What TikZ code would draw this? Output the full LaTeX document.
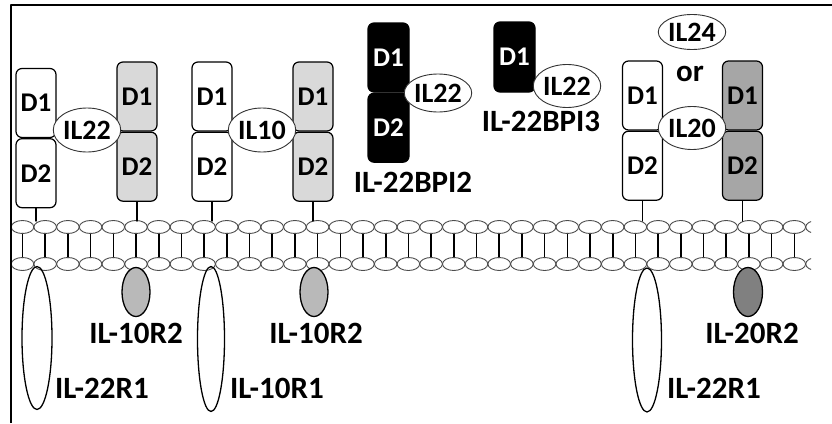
\documentclass[tikz,border=0pt]{standalone}
\usepackage{fontspec}
\setmainfont{Carlito}
\usetikzlibrary{shapes.geometric}

\begin{document}
\begin{tikzpicture}[x=1pt, y=-1pt, line cap=round, line join=round]

% ---------------- styles ----------------
\tikzset{
  dom/.style    ={draw, line width=1.2pt, rounded corners=6pt, minimum width=40pt,
                  minimum height=69pt, inner sep=0pt, font=\fontsize{27}{27}\selectfont\bfseries},
  domW/.style   ={dom, fill=white},
  domL/.style   ={dom, fill=gray!30},
  domD/.style   ={dom, fill=gray!70},
  domB/.style   ={dom, fill=black, text=white},
  lig/.style    ={draw=black!80, line width=0.9pt, ellipse, inner sep=0pt, fill=white,
                  font=\fontsize{28}{28}\selectfont\bfseries},
  chain/.style  ={draw, line width=1.3pt, ellipse, inner sep=0pt},
  stem/.style   ={line width=1.4pt},
  lbl/.style    ={inner sep=0pt, font=\fontsize{31}{31}\selectfont\bfseries},
  head/.style   ={draw=black!70, line width=0.9pt},
  tail/.style   ={line width=1.6pt}
}

% ---------------- parameters ----------------
\def\Xa{22.5}    % first lipid head
\def\Dx{22.7}    % spacing of lipid heads
\def\Yup{227}    % outer leaflet
\def\Ylo{264}    % inner leaflet
\def\Rx{11.3}    % head radius x
\def\Ry{6.5}     % head radius y

\useasboundingbox (0,0) rectangle (832,423);

% frame
\draw[line width=2pt, line cap=butt] (10.5,423) -- (10.5,5) -- (832,5);

% ---------------- membrane ----------------
\begin{scope}
  \clip (12,200) rectangle (811,290);
  \foreach \i in {0,...,35}{
    \draw[tail] (\Xa+\i*\Dx, \Yup+\Ry) -- (\Xa+\i*\Dx, \Ylo-\Ry);
    \draw[head] (\Xa+\i*\Dx, \Yup) ellipse [x radius=\Rx, y radius=\Ry];
    \draw[head] (\Xa+\i*\Dx, \Ylo) ellipse [x radius=\Rx, y radius=\Ry];
  }
\end{scope}
\coordinate (memTop) at (0,221);

% ---------------- IL-22 / IL-22R1 + IL-10R2 ----------------
\node[domW] (aD1) at (36,103) {D1};
\node[domW, anchor=north] (aD2) at (aD1.south) {D2};
\node[domL] (bD1) at (137,96.5) {D1};
\node[domL, anchor=north] (bD2) at (bD1.south) {D2};
\node[lig, minimum width=57pt, minimum height=44pt] (ilA) at (87,130) {IL22};

% ---------------- IL-10 / IL-10R1 + IL-10R2 ----------------
\node[domW] (cD1) at (212,96.5) {D1};
\node[domW, anchor=north] (cD2) at (cD1.south) {D2};
\node[domL] (dD1) at (313,96.5) {D1};
\node[domL, anchor=north] (dD2) at (dD1.south) {D2};
\node[lig, minimum width=55pt, minimum height=44pt] (ilB) at (262,130) {IL10};

% ---------------- soluble binding proteins ----------------
\node[domB, minimum width=41pt] (eD1) at (388.5,57.5) {D1};
\node[domB, minimum width=41pt, anchor=north] (eD2) at (eD1.south) {D2};
\node[lig, minimum width=56pt, minimum height=38pt] (ilC) at (438,93) {IL22};
\node[lbl] (bpiTwo) at (413,182) {IL-22BPI2};

\node[domB, minimum width=41pt, minimum height=70pt] (fD1) at (514.5,57) {D1};
\node[lig, minimum width=57pt, minimum height=43pt] (ilD) at (567,86) {IL22};
\node[lbl] (bpiThree) at (541,121) {IL-22BPI3};

% ---------------- IL-20 or IL-24 / IL-22R1 + IL-20R2 ----------------
\node[domW] (gD1) at (642.5,95.5) {D1};
\node[domW, anchor=north] (gD2) at (gD1.south) {D2};
\node[domD] (hD1) at (742.5,95.5) {D1};
\node[domD, anchor=north] (hD2) at (hD1.south) {D2};
\node[lig, minimum width=60pt, minimum height=43pt] (ilE) at (692,128) {IL20};
\node[lig, minimum width=60pt, minimum height=35pt] (ilF) at (692,32) {IL24};
\node[lbl] (orTxt) at (690,74) {or};

% ---------------- stems ----------------
\foreach \n in {aD2,bD2,cD2,dD2,gD2,hD2}
  \draw[stem] (\n.south) -- (\n.south |- memTop);

% ---------------- intracellular chains ----------------
\node[chain, minimum width=30pt, minimum height=143pt] (rA) at (37,338) {};
\node[chain, fill=gray!55, minimum width=28pt, minimum height=49pt] (rB) at (136,292) {};
\node[chain, minimum width=27pt, minimum height=145pt] (rC) at (211,339) {};
\node[chain, fill=gray!55, minimum width=28pt, minimum height=49pt] (rD) at (314,292) {};
\node[chain, minimum width=29pt, minimum height=144pt] (rE) at (647,340) {};
\node[chain, fill=black!50, minimum width=29pt, minimum height=49pt] (rF) at (748,292) {};

\node[lbl] (tB) at (136,333) {IL-10R2};
\node[lbl] (tD) at (316,333) {IL-10R2};
\node[lbl] (tF) at (752,333) {IL-20R2};
\node[lbl, anchor=west] (tA) at (55,388) {IL-22R1};
\node[lbl, anchor=west] (tC) at (230,388) {IL-10R1};
\node[lbl, anchor=west] (tE) at (667,388) {IL-22R1};

\end{tikzpicture}
\end{document}
